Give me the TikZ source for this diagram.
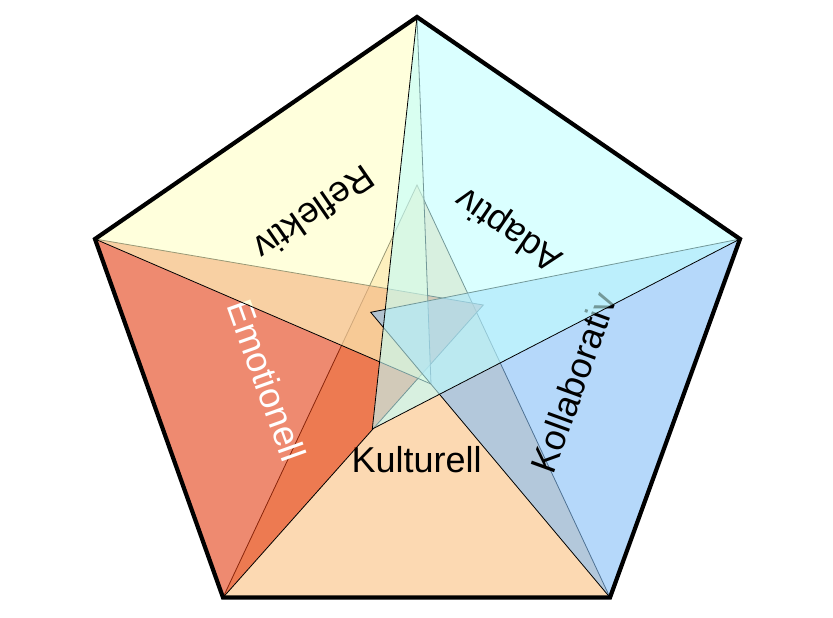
\documentclass[tikz,border=0pt]{standalone}
\usepackage{fontspec}
\setmainfont{Liberation Sans}
\usepackage{tikz}
\usepackage{xcolor}
\definecolor{peach}{RGB}{250,192,127}
\definecolor{salmon}{RGB}{227,60,17}
\definecolor{lemon}{RGB}{255,255,197}
\definecolor{sky}{RGB}{132,190,247}
\definecolor{aqua}{RGB}{193,255,255}

\begin{document}
\begin{tikzpicture}[x=1pt, y=-1pt,
        tri/.style={draw=black, line width=0.8pt, fill opacity=0.6},
        lbl/.style={font=\fontsize{36}{43}\selectfont, inner sep=0pt}]
        \useasboundingbox (0,0) rectangle (833,618);

        % corners of the pentagon
        \coordinate (T) at (417,17);
        \coordinate (R) at (740,239);
        \coordinate (BR) at (610,597.5);
        \coordinate (BL) at (223,597.5);
        \coordinate (L) at (95,239);

        % inner tips
        \coordinate (kul) at (417,185);
        \coordinate (emo) at (483.3,305);
        \coordinate (ref) at (431,384);
        \coordinate (kol) at (370.7,312.3);
        \coordinate (ada) at (372.3,429);

        \draw[tri, fill=peach] (BL) -- (BR) -- (kul) -- cycle;
        \node[lbl, black] at (barycentric cs:BL=1,BR=1,kul=1) {Kulturell};

        \draw[tri, fill=salmon] (L) -- (BL) -- (emo) -- cycle;
        \node[lbl, white, rotate=-70.3] at (barycentric cs:L=1,BL=1,emo=1) {Emotionell};

        \draw[tri, fill=lemon] (T) -- (L) -- (ref) -- cycle;
        \node[lbl, black, rotate=214.6] at (barycentric cs:T=1,L=1,ref=1) {Reflektiv};

        \draw[tri, fill=sky] (R) -- (BR) -- (kol) -- cycle;
        \node[lbl, black, rotate=70] at (barycentric cs:R=1,BR=1,kol=1) {Kollaborativ};

        \draw[tri, fill=aqua] (T) -- (R) -- (ada) -- cycle;
        \node[lbl, black, rotate=145.5] at (barycentric cs:T=1,R=1,ada=1) {Adaptiv};

        \draw[black, line width=4.2pt] (T) -- (R) -- (BR) -- (BL) -- (L) -- cycle;

\end{tikzpicture}
\end{document}
